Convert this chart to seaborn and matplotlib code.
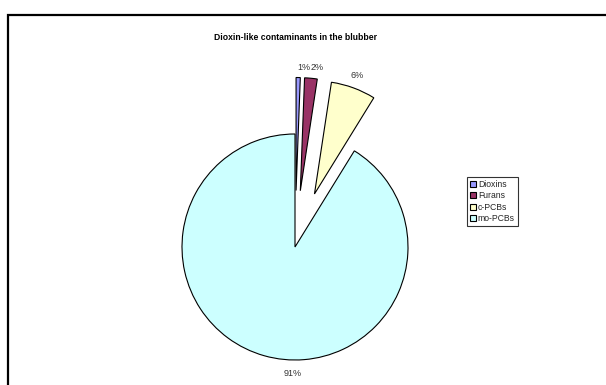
import matplotlib
matplotlib.use("Agg")
import matplotlib.pyplot as plt
import seaborn as sns
from matplotlib.patches import Rectangle

categories = ["Dioxins", "Furans", "c-PCBs", "mo-PCBs"]
values = [0.6, 1.8, 6.4, 91.2]
colors = ["#9999FF", "#993366", "#FFFFCC", "#CCFFFF"]
explode = [0.5, 0.5, 0.5, 0.0]

sns.set_theme(style="white")
plt.rcParams["font.family"] = ["Liberation Sans", "DejaVu Sans"]

W, H = 606, 385
fig = plt.figure(figsize=(W / 100, H / 100), dpi=100)
fig.patch.set_facecolor("white")

cx, cy, R = 295, 247, 113
ax = fig.add_axes([0, 0, 1, 1])
wedges, texts, autotexts = ax.pie(
    values, colors=colors, explode=explode, startangle=90, counterclock=False,
    autopct="%1.0f%%", pctdistance=1.1, radius=1.0,
    wedgeprops=dict(edgecolor="black", linewidth=0.8),
    textprops=dict(fontsize=6.5, color="#333333"),
)
ax.set_aspect("auto")
ax.set_xlim(-cx / R, (W - cx) / R)
ax.set_ylim(-(H - cy) / R, cy / R)
ax.axis("off")

# label placement similar to the original (pixel positions -> data units)
def px(x, y):
    return ((x - cx) / R, (cy - y) / R)

label_px = [(304, 67), (317, 67), (357, 76), (293, 373)]
for t, (x, y) in zip(autotexts, label_px):
    t.set_position(px(x, y))
    t.set_ha("center")
    t.set_va("center")

leg = ax.legend(
    wedges, categories, loc="upper left",
    bbox_to_anchor=(467 / W, 1 - 177 / H), bbox_transform=fig.transFigure,
    fontsize=6.2, frameon=True, fancybox=False, handlelength=0.7, handleheight=0.7,
    handletextpad=0.2, borderpad=0.35, labelspacing=0.28, borderaxespad=0,
)
leg.get_frame().set_edgecolor("black")
leg.get_frame().set_linewidth(0.8)

fig.text(cx / W, 1 - 37 / H, "Dioxin-like contaminants in the blubber",
         ha="center", va="center", fontsize=6.2, fontweight="bold", color="black")

fig.patches.append(Rectangle((8 / W, -0.2), 1.5, 1.2 - 15 / H, transform=fig.transFigure,
                             fill=False, edgecolor="black", linewidth=1.6))

fig.savefig("out.png", dpi=100)
